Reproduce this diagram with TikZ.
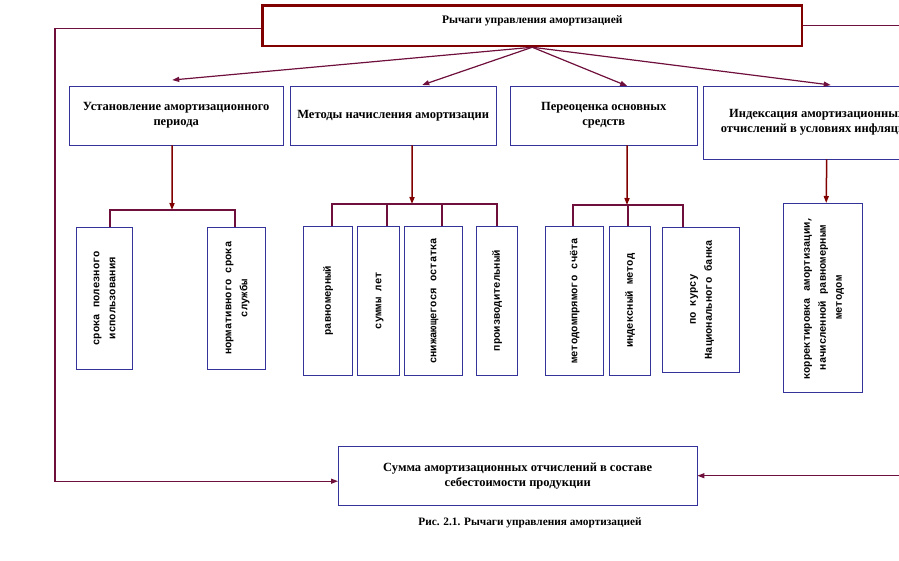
\documentclass[tikz,border=0pt]{standalone}
\usepackage{fontspec}
\setmainfont{Liberation Serif}
\setmonofont{Liberation Mono}
\usetikzlibrary{arrows.meta,positioning}

\definecolor{boxblue}{HTML}{333399}
\definecolor{linkred}{HTML}{6E0F3C}
\definecolor{darkred}{HTML}{800000}

\newcommand{\vtxt}[1]{\rotatebox{90}{\fontsize{10.5}{16}\selectfont\ttfamily\bfseries
  \begin{tabular}{@{}c@{}}#1\end{tabular}}}

\begin{document}
\begin{tikzpicture}[x=1pt,y=-1pt,>={Triangle[length=7pt,width=5pt]},
  lever/.style={draw=boxblue,thin,align=center,anchor=north west,
    font=\fontsize{12.5}{15}\selectfont\bfseries,inner sep=2pt},
  way/.style={draw=boxblue,thin,anchor=north west,inner sep=0pt},
  fan/.style={->,draw=linkred,line width=1.2pt},
  down/.style={->,draw=darkred,line width=1.5pt},
  bar/.style={draw=linkred,line width=1.5pt}]
  \useasboundingbox (0,0) rectangle (899,560);
  \clip (0,0) rectangle (899,560);

  % top
  \node[draw=darkred,line width=2.5pt,anchor=north west,align=center,
    minimum width=539.5,minimum height=40.5,inner sep=0pt,
    font=\fontsize{11.5}{13}\selectfont\bfseries] (levers) at (261.25,4.25)
    {Рычаги управления амортизацией\\~};

  % levers
  \node[lever,minimum width=214,minimum height=59] (period)  at (69,86)  {Установление амортизационного\\периода};
  \node[lever,minimum width=206,minimum height=59] (methods) at (290,86) {Методы начисления амортизации};
  \node[lever,minimum width=187,minimum height=59] (revalue) at (510,86) {Переоценка основных\\средств};
  \node[lever,minimum width=227,minimum height=73] (index)   at (703,86) {Индексация амортизационных\\отчислений в условиях инфляции};

  % ways
  \node[way,minimum width=56,minimum height=142] (term) at (76,227)  {\vtxt{срока полезного\\использования}};
  \node[way,minimum width=58,minimum height=142] (norm) at (207,227) {\vtxt{нормативного срока\\службы}};

  \node[way,minimum width=49,minimum height=149] (even)     at (303,226) {\vtxt{равномерный}};
  \node[way,minimum width=42,minimum height=149] (sumyears) at (357,226) {\vtxt{суммы лет}};
  \node[way,minimum width=58,minimum height=149] (decl)     at (404,226) {\vtxt{снижающегося остатка}};
  \node[way,minimum width=41,minimum height=149] (prod)     at (476,226) {\vtxt{производительный}};

  \node[way,minimum width=58,minimum height=149] (direct) at (545,226) {\vtxt{методомпрямого счёта}};
  \node[way,minimum width=41,minimum height=149] (imeth)  at (609,226) {\vtxt{индексный метод}};
  \node[way,minimum width=77,minimum height=145] (course) at (662,227) {\vtxt{по курсу\\Национального банка}};

  \node[way,minimum width=79,minimum height=189] (adjust) at (783,203) {\vtxt{корректировка амортизации,\\начисленной равномерным\\методом}};

  % bottom
  \node[lever,minimum width=359,minimum height=59] (total) at (338,446) {Сумма амортизационных отчислений в составе\\себестоимости продукции};
  \node[font=\fontsize{11.3}{13}\selectfont\bfseries] (caption) at (530,523) {Рис. 2.1. Рычаги управления амортизацией};

  \coordinate (fork1) at (172,210);
  \coordinate (fork2) at (412,204);
  \coordinate (fork3) at (627,205);
  \coordinate (leftrail) at (55,250);
  \coordinate (rightrail) at (940,250);

  % fan
  \draw[fan] (levers.south) -- ([xshift=-4pt,yshift=6pt]period.north);
  \draw[fan] (levers.south) -- ([xshift=29pt,yshift=1pt]methods.north);
  \draw[fan] (levers.south) -- ([xshift=23.5pt]revalue.north);
  \draw[fan] (levers.south) -- ([xshift=14pt,yshift=1pt]index.north);

  % down
  \draw[down] ([xshift=-4pt]period.south) -- (fork1);
  \draw[down] ([xshift=19pt]methods.south) -- (fork2);
  \draw[down] ([xshift=23.5pt]revalue.south) -- (fork3);
  \draw[down] ([xshift=10pt]index.south) -- ([xshift=3.5pt]adjust.north);

  % brackets
  \draw[bar] ([xshift=6pt]term.north) |- (fork1) -| ([xshift=-1pt]norm.north);
  \draw[bar] ([xshift=4.5pt]even.north) |- (fork2) -| ([xshift=0.5pt]prod.north);
  \draw[bar] ([xshift=9pt]sumyears.north) |- (fork2);
  \draw[bar] ([xshift=9pt]decl.north) |- (fork2);
  \draw[bar] ([xshift=-1pt]direct.north) |- (fork3) -| ([xshift=-17.5pt]course.north);
  \draw[bar] ([xshift=-1.5pt]imeth.north) |- (fork3);

  % loops
  \draw[fan] ([yshift=-2.5pt]levers.west) -| (leftrail) |- ([yshift=-5.5pt]total.west);
  \draw[fan] (levers.east) -| (rightrail) |- (total.east);
\end{tikzpicture}
\end{document}
